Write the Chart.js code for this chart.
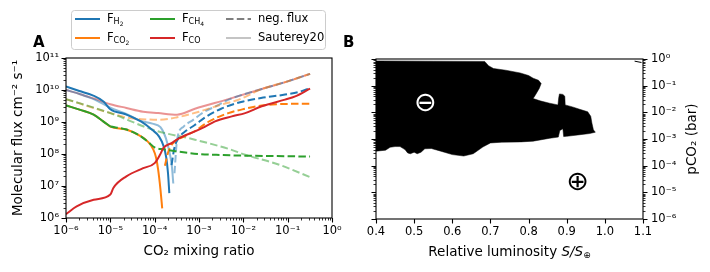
<!DOCTYPE html>
<html>
<head>
<meta charset="utf-8">
<script src="https://cdn.jsdelivr.net/npm/chart.js@4"></script>
<style>
    html, body { margin: 0; padding: 0; background: #fff; }
    #wrap { position: relative; width: 710px; height: 272px; overflow: hidden; }
    #panelA { position: absolute; left: 0; top: 0; }
    #panelB { position: absolute; left: 340px; top: 0; }
</style>
</head>
<body>
<div id="wrap">
    <canvas id="panelA" width="345" height="272"></canvas>
    <canvas id="panelB" width="370" height="272"></canvas>
</div>
<script>
// --- panel A: fluxes vs CO2 mixing ratio (dashed = negative flux, faint = Sauterey20) ---
const h2PosX = [1e-6, 2.0e-6, 4.0e-6, 7.1e-6, 1e-5, 2.2e-5, 5.0e-5, 8.9e-5, 1.26e-4, 1.58e-4, 1.82e-4, 2.0e-4, 2.14e-4];
const h2PosY = [1.29e10, 9.3e9, 6.8e9, 4.3e9, 2.5e9, 1.74e9, 1.02e9, 5.6e8, 3.5e8, 1.8e8, 7.9e7, 2.5e7, 6.0e6];
const h2NegX = [2.4e-4, 2.8e-4, 3.5e-4, 5.0e-4, 7.9e-4, 1.38e-3, 3.16e-3, 1e-2, 2.5e-2, 8.7e-2, 0.178, 0.32];
const h2NegY = [4.5e7, 1.6e8, 3.2e8, 5.2e8, 7.9e8, 1.4e9, 2.6e9, 4.4e9, 5.6e9, 7.2e9, 8.7e9, 1.15e10];

const co2PosX = [1e-6, 2.1e-6, 4.2e-6, 6.9e-6, 1e-5, 2.3e-5, 4.7e-5, 7.1e-5, 9.3e-5, 1.07e-4, 1.2e-4, 1.35e-4, 1.48e-4];
const co2PosY = [3.3e9, 2.4e9, 1.7e9, 1.05e9, 7.2e8, 5.8e8, 3.7e8, 2.4e8, 1.4e8, 7.9e7, 3.2e7, 7.9e6, 2.0e6];
const co2NegX = [1.7e-4, 2.04e-4, 2.6e-4, 4.5e-4, 8.1e-4, 1.6e-3, 4.6e-3, 1.1e-2, 2.6e-2, 6.2e-2, 0.148, 0.32];
const co2NegY = [4.3e7, 1.2e8, 2.2e8, 3.5e8, 5.2e8, 1.0e9, 1.9e9, 2.6e9, 3.3e9, 3.6e9, 3.7e9, 3.7e9];

const ch4PosX = [1e-6, 2.1e-6, 4.2e-6, 6.9e-6, 1e-5];
const ch4PosY = [3.3e9, 2.4e9, 1.7e9, 1.05e9, 7.2e8];
const ch4NegX = [1e-5, 2.3e-5, 4.7e-5, 7.1e-5, 1e-4, 1.6e-4, 3.2e-4, 1e-3, 3.2e-3, 1e-2, 0.1, 0.32];
const ch4NegY = [7.2e8, 5.8e8, 3.7e8, 2.4e8, 1.6e8, 1.4e8, 1.2e8, 1.0e8, 9.3e7, 8.9e7, 8.5e7, 8.3e7];

const coPosX = [1e-6, 1.74e-6, 4.2e-6, 1e-5, 1.17e-5, 2.3e-5, 5.5e-5, 1e-4, 1.32e-4, 1.58e-4, 2.4e-4, 3.7e-4, 8.1e-4, 1.38e-3, 2.3e-3, 5.5e-3, 1.1e-2, 2.6e-2, 8.7e-2, 0.148, 0.32];
const coPosY = [1.32e6, 2.3e6, 3.7e6, 5.4e6, 8.7e6, 2.0e7, 3.6e7, 5.2e7, 9.5e7, 1.55e8, 2.2e8, 3.2e8, 5.1e8, 7.2e8, 1.05e9, 1.5e9, 1.9e9, 3.1e9, 5.0e9, 6.3e9, 1.1e10];

const sautCoX = [1e-6, 2.1e-6, 4.2e-6, 1e-5, 2.3e-5, 5.5e-5, 1.2e-4, 3.2e-4, 8.1e-4, 4.6e-3, 2.6e-2, 0.1, 0.32];
const sautCoY = [1.0e10, 7.4e9, 5.4e9, 3.6e9, 2.75e9, 2.1e9, 1.9e9, 1.7e9, 2.6e9, 5.2e9, 1.07e10, 1.86e10, 3.2e10];
const sautH2PosX = [1e-6, 2.1e-6, 4.2e-6, 1e-5, 2.3e-5, 4.7e-5, 8.9e-5, 1.35e-4, 1.78e-4, 2.2e-4, 2.45e-4, 2.63e-4];
const sautH2PosY = [1.0e10, 7.4e9, 5.2e9, 2.8e9, 1.8e9, 1.1e9, 8.9e8, 6.9e8, 3.2e8, 1.0e8, 4.0e7, 1.2e7];
const sautH2NegX = [2.8e-4, 3.2e-4, 4.5e-4, 7.4e-4, 1.26e-3, 2.5e-3, 5.0e-3, 2.6e-2, 0.1, 0.32];
const sautH2NegY = [2.5e7, 2.8e8, 7.2e8, 1.17e9, 2.0e9, 3.2e9, 5.2e9, 1.07e10, 1.86e10, 3.2e10];
const sautCo2NegX = [1e-6, 1e-5, 2.5e-5, 5.0e-5, 1.26e-4, 3.2e-4, 1e-3, 3.2e-3, 7.9e-3, 2.6e-2, 0.1, 0.32];
const sautCo2NegY = [5.2e9, 1.9e9, 1.35e9, 1.23e9, 1.17e9, 1.4e9, 2.1e9, 3.5e9, 5.0e9, 1.07e10, 1.86e10, 3.2e10];
const sautCh4NegX = [1e-6, 1e-5, 1e-4, 8.1e-4, 4.6e-3, 1.1e-2, 6.2e-2, 0.32];
const sautCh4NegY = [5.2e9, 1.9e9, 5.5e8, 2.8e8, 1.45e8, 9.5e7, 4.7e7, 1.9e7];

const mixTicks = [1e-6, 1e-5, 1e-4, 1e-3, 1e-2, 1e-1, 1];
const mixTickLabels = ['10⁻⁶', '10⁻⁵', '10⁻⁴', '10⁻³', '10⁻²', '10⁻¹', '10⁰'];
const fluxTicks = [1e6, 1e7, 1e8, 1e9, 1e10, 1e11];
const fluxTickLabels = ['10⁶', '10⁷', '10⁸', '10⁹', '10¹⁰', '10¹¹'];

const legendSubs = ['H', 'CO', 'CH', 'CO'];
const legendSubSubs = ['2', '2', '4', ''];

// --- panel B: outline of the black region (luminosity, pCO2 in bar) ---
const edgeLum = [0.40, 0.55, 0.685, 0.695, 0.708, 0.74, 0.778, 0.80, 0.812, 0.826, 0.833, 0.828, 0.818, 0.812, 0.83, 0.855, 0.877,
    0.879, 0.881, 0.89, 0.895, 0.896, 0.915, 0.934, 0.955, 0.963, 0.966, 0.970, 0.975, 0.96, 0.935, 0.90, 0.892, 0.890, 0.882,
    0.878, 0.856, 0.812, 0.78, 0.73, 0.70, 0.68, 0.655, 0.63, 0.60, 0.57, 0.545, 0.528, 0.518, 0.508, 0.50, 0.49, 0.483,
    0.476, 0.463, 0.45, 0.437, 0.425, 0.40];
const edgePco2 = [0.85, 0.83, 0.81, 0.56, 0.44, 0.38, 0.30, 0.24, 0.19, 0.16, 0.12, 0.079, 0.045, 0.033, 0.027, 0.022, 0.019,
    0.035, 0.049, 0.047, 0.040, 0.019, 0.016, 0.013, 0.0105, 0.0071, 0.004, 0.0022, 0.0018, 0.0016, 0.00145, 0.00126, 0.00123, 0.0024, 0.0021,
    0.00118, 0.00107, 0.00083, 0.00078, 0.00076, 0.00071, 0.0005, 0.00028, 0.00023, 0.00026, 0.00035, 0.00044, 0.00043, 0.00032, 0.00028, 0.00032, 0.00028, 0.0003,
    0.0004, 0.00052, 0.00052, 0.00049, 0.00038, 0.00035];
const markLum = [1.078, 1.096];
const markPco2 = [0.83, 0.74];

const signLum = [0.53, 0.929];
const signPco2 = [0.022, 2.4e-5];
const signText = ['⊖', '⊕'];
const signColor = ['#fff', '#000'];

const lumTicks = [0.4, 0.5, 0.6, 0.7, 0.8, 0.9, 1.0, 1.1];
const lumTickLabels = ['0.4', '0.5', '0.6', '0.7', '0.8', '0.9', '1.0', '1.1'];
const pco2Ticks = [1e-6, 1e-5, 1e-4, 1e-3, 1e-2, 1e-1, 1];
const pco2TickLabels = ['10⁻⁶', '10⁻⁵', '10⁻⁴', '10⁻³', '10⁻²', '10⁻¹', '10⁰'];

const BLUE = '#1f77b4', ORANGE = '#ff7f0e', GREEN = '#2ca02c', RED = '#d62728';
const DASH = [7.5, 3.3];
const FONT = "'DejaVu Sans', sans-serif";

Chart.defaults.font.family = FONT;
Chart.defaults.color = '#000';

function pts(xs, ys) {
    return xs.map((x, i) => ({ x: x, y: ys[i] }));
}

function curve(xs, ys, color, dashed) {
    return {
        data: pts(xs, ys),
        borderColor: color,
        borderWidth: 2,
        borderDash: dashed ? DASH : [],
        borderJoinStyle: 'round',
        cubicInterpolationMode: 'monotone',
        pointRadius: 0,
        fill: false
    };
}

function fade(hex) {
    const n = parseInt(hex.slice(1), 16);
    return `rgba(${n >> 16}, ${(n >> 8) & 255}, ${n & 255}, 0.5)`;
}

function minorsOf(majors) {
    const out = [];
    for (let i = 0; i < majors.length - 1; i++) {
        for (let k = 2; k <= 9; k++) out.push(majors[i] * k);
    }
    return out;
}

function tickMarks(ctx, chart, scale, values, len, width, side) {
    const a = chart.chartArea;
    ctx.save();
    ctx.strokeStyle = '#000';
    ctx.lineWidth = width;
    ctx.beginPath();
    values.forEach(v => {
        const p = Math.round(scale.getPixelForValue(v)) + 0.5;
        if (side === 'bottom') { ctx.moveTo(p, a.bottom); ctx.lineTo(p, a.bottom + len); }
        else if (side === 'left') { ctx.moveTo(a.left, p); ctx.lineTo(a.left - len, p); }
        else { ctx.moveTo(a.right, p); ctx.lineTo(a.right + len, p); }
    });
    ctx.stroke();
    ctx.restore();
}

function frame(ctx, chart) {
    const a = chart.chartArea;
    ctx.save();
    ctx.strokeStyle = '#000';
    ctx.lineWidth = 1.1;
    ctx.strokeRect(a.left, a.top, a.right - a.left, a.bottom - a.top);
    ctx.restore();
}

function drawLegend(ctx) {
    ctx.save();
    ctx.fillStyle = 'rgba(255,255,255,0.8)';
    ctx.strokeStyle = '#cccccc';
    ctx.lineWidth = 1;
    ctx.beginPath();
    ctx.roundRect(71.5, 10.5, 254, 39, 3);
    ctx.fill();
    ctx.stroke();

    const cols = [75, 150, 226];
    const rows = [19, 38];
    const colors = [BLUE, ORANGE, GREEN, RED];
    ctx.lineWidth = 2;
    ctx.textBaseline = 'middle';
    ctx.fillStyle = '#000';
    for (let i = 0; i < 4; i++) {
        const x = cols[Math.floor(i / 2)];
        const y = rows[i % 2];
        ctx.strokeStyle = colors[i];
        ctx.setLineDash([]);
        ctx.beginPath();
        ctx.moveTo(x, y); ctx.lineTo(x + 25, y);
        ctx.stroke();
        let tx = x + 32;
        ctx.font = `11.5px ${FONT}`;
        ctx.fillText('F', tx, y);
        tx += ctx.measureText('F').width;
        ctx.font = `8px ${FONT}`;
        ctx.fillText(legendSubs[i], tx, y + 3);
        tx += ctx.measureText(legendSubs[i]).width;
        if (legendSubSubs[i]) {
            ctx.font = `6px ${FONT}`;
            ctx.fillText(legendSubSubs[i], tx, y + 5);
        }
    }
    // style entries
    ctx.strokeStyle = '#7f7f7f';
    ctx.setLineDash(DASH);
    ctx.beginPath();
    ctx.moveTo(cols[2], rows[0]); ctx.lineTo(cols[2] + 25, rows[0]);
    ctx.stroke();
    ctx.strokeStyle = '#c4c4c4';
    ctx.setLineDash([]);
    ctx.beginPath();
    ctx.moveTo(cols[2], rows[1]); ctx.lineTo(cols[2] + 25, rows[1]);
    ctx.stroke();
    ctx.font = `11.5px ${FONT}`;
    ctx.fillText('neg. flux', cols[2] + 32, rows[0]);
    ctx.fillText('Sauterey20', cols[2] + 32, rows[1]);
    ctx.restore();
}

const panelAExtras = {
    id: 'panelAExtras',
    afterDraw(chart) {
        const ctx = chart.ctx;
        frame(ctx, chart);
        tickMarks(ctx, chart, chart.scales.x, mixTicks, 4.5, 1.1, 'bottom');
        tickMarks(ctx, chart, chart.scales.x, minorsOf(mixTicks), 2.5, 0.8, 'bottom');
        tickMarks(ctx, chart, chart.scales.y, fluxTicks, 4.5, 1.1, 'left');
        tickMarks(ctx, chart, chart.scales.y, minorsOf(fluxTicks), 2.5, 0.8, 'left');
        drawLegend(ctx);
        ctx.save();
        ctx.font = `bold 15px ${FONT}`;
        ctx.fillStyle = '#000';
        ctx.fillText('A', 33, 47);
        ctx.restore();
    }
};

new Chart(document.getElementById('panelA'), {
    type: 'line',
    data: {
        datasets: [
            curve(coPosX, coPosY, RED, false),
            curve(ch4PosX, ch4PosY, GREEN, false),
            curve(ch4NegX, ch4NegY, GREEN, true),
            curve(co2PosX, co2PosY, ORANGE, false),
            curve(co2NegX, co2NegY, ORANGE, true),
            curve(h2PosX, h2PosY, BLUE, false),
            curve(h2NegX, h2NegY, BLUE, true),
            curve(sautCh4NegX, sautCh4NegY, fade(GREEN), true),
            curve(sautCo2NegX, sautCo2NegY, fade(ORANGE), true),
            curve(sautH2NegX, sautH2NegY, fade(BLUE), true),
            curve(sautH2PosX, sautH2PosY, fade(BLUE), false),
            curve(sautCoX, sautCoY, fade(RED), false)
        ]
    },
    options: {
        responsive: false,
        animation: false,
        layout: { padding: { left: 10, top: 58, right: 13, bottom: 0 } },
        plugins: { legend: { display: false }, tooltip: { enabled: false } },
        scales: {
            x: {
                type: 'logarithmic', min: 1e-6, max: 1,
                afterBuildTicks: s => { s.ticks = mixTicks.map(v => ({ value: v })); },
                afterFit: s => { s.height = 54; s.paddingLeft = 0; s.paddingRight = 0; },
                grid: { display: false, drawTicks: false },
                border: { display: false },
                ticks: { autoSkip: false, maxRotation: 0, padding: 6, font: { size: 11.5 }, callback: (v, i) => mixTickLabels[i] },
                title: { display: true, text: 'CO₂ mixing ratio', font: { size: 13.5 }, padding: { top: 0, bottom: 12 } }
            },
            y: {
                type: 'logarithmic', min: 1e6, max: 1e11,
                afterBuildTicks: s => { s.ticks = fluxTicks.map(v => ({ value: v })); },
                afterFit: s => { s.width = 56; s.paddingTop = 0; s.paddingBottom = 0; },
                grid: { display: false, drawTicks: false },
                border: { display: false },
                ticks: { autoSkip: false, padding: 7, font: { size: 11.5 }, callback: (v, i) => fluxTickLabels[i] },
                title: { display: true, text: 'Molecular flux cm⁻² s⁻¹', font: { size: 13.5 }, padding: { top: 0, bottom: 0 } }
            }
        }
    },
    plugins: [panelAExtras]
});

const panelBExtras = {
    id: 'panelBExtras',
    afterDatasetsDraw(chart) {
        const ctx = chart.ctx;
        ctx.save();
        ctx.font = `27px ${FONT}`;
        ctx.textAlign = 'center';
        ctx.textBaseline = 'middle';
        signText.forEach((s, i) => {
            ctx.fillStyle = signColor[i];
            ctx.fillText(s, chart.scales.x.getPixelForValue(signLum[i]), chart.scales.y.getPixelForValue(signPco2[i]) + 1);
        });
        ctx.restore();
    },
    afterDraw(chart) {
        const ctx = chart.ctx;
        const a = chart.chartArea;
        frame(ctx, chart);
        tickMarks(ctx, chart, chart.scales.x, lumTicks, 4.5, 1.1, 'bottom');
        ['left', 'right'].forEach(side => {
            tickMarks(ctx, chart, chart.scales.y, pco2Ticks, 4.5, 1.1, side);
            tickMarks(ctx, chart, chart.scales.y, minorsOf(pco2Ticks), 2.5, 0.8, side);
        });

        ctx.save();
        ctx.fillStyle = '#000';
        // x title with italic S/S and subscript earth symbol
        const t1 = 'Relative luminosity ', t2 = 'S/S', t3 = '⊕';
        ctx.font = `13.5px ${FONT}`;
        const w1 = ctx.measureText(t1).width;
        ctx.font = `italic 13.5px ${FONT}`;
        const w2 = ctx.measureText(t2).width;
        ctx.font = `9px ${FONT}`;
        const w3 = ctx.measureText(t3).width;
        let x0 = (a.left + a.right) / 2 - (w1 + w2 + w3) / 2;
        const base = 256;
        ctx.font = `13.5px ${FONT}`;
        ctx.fillText(t1, x0, base);
        ctx.font = `italic 13.5px ${FONT}`;
        ctx.fillText(t2, x0 + w1, base);
        ctx.font = `9px ${FONT}`;
        ctx.fillText(t3, x0 + w1 + w2, base + 2);

        // right-hand y title, reading bottom to top
        ctx.translate(352, (a.top + a.bottom) / 2);
        ctx.rotate(-Math.PI / 2);
        ctx.font = `13.5px ${FONT}`;
        ctx.textAlign = 'center';
        ctx.textBaseline = 'middle';
        ctx.fillText('pCO₂ (bar)', 0, 0);
        ctx.restore();

        ctx.save();
        ctx.font = `bold 15px ${FONT}`;
        ctx.fillStyle = '#000';
        ctx.fillText('B', 3, 47);
        ctx.restore();
    }
};

new Chart(document.getElementById('panelB'), {
    type: 'line',
    data: {
        datasets: [
            {
                data: pts(edgeLum, edgePco2),
                borderColor: '#000',
                borderWidth: 0.5,
                backgroundColor: '#000',
                fill: 'shape',
                pointRadius: 0,
                tension: 0
            },
            {
                data: pts(markLum, markPco2),
                borderColor: '#000',
                borderWidth: 1,
                pointRadius: 0,
                fill: false
            }
        ]
    },
    options: {
        responsive: false,
        animation: false,
        layout: { padding: { left: 36, top: 59, right: 0, bottom: 0 } },
        plugins: { legend: { display: false }, tooltip: { enabled: false } },
        scales: {
            x: {
                type: 'linear', min: 0.4, max: 1.1,
                afterBuildTicks: s => { s.ticks = lumTicks.map(v => ({ value: v })); },
                afterFit: s => { s.height = 53; s.paddingLeft = 0; s.paddingRight = 0; },
                grid: { display: false, drawTicks: false },
                border: { display: false },
                ticks: { autoSkip: false, maxRotation: 0, padding: 6, font: { size: 11.5 }, callback: (v, i) => lumTickLabels[i] }
            },
            y: {
                type: 'logarithmic', position: 'right', min: 1e-6, max: 1,
                afterBuildTicks: s => { s.ticks = pco2Ticks.map(v => ({ value: v })); },
                afterFit: s => { s.width = 67; s.paddingTop = 0; s.paddingBottom = 0; },
                grid: { display: false, drawTicks: false },
                border: { display: false },
                ticks: { autoSkip: false, padding: 8, font: { size: 11.5 }, callback: (v, i) => pco2TickLabels[i] }
            }
        }
    },
    plugins: [panelBExtras]
});
</script>
</body>
</html>
